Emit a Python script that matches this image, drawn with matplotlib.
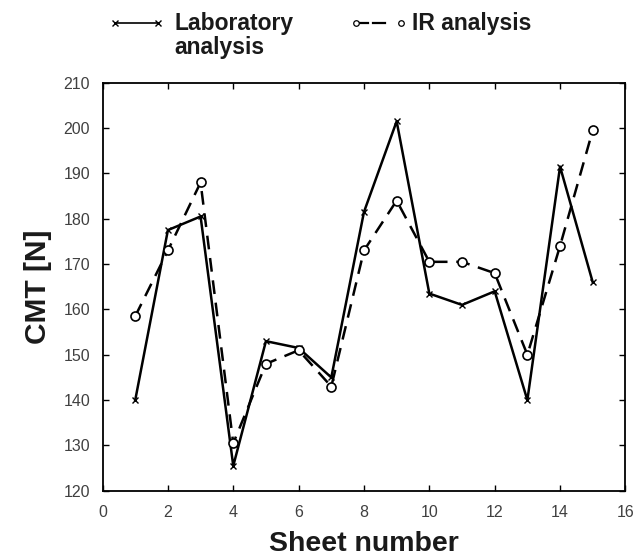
import matplotlib
matplotlib.use("Agg")
import matplotlib.pyplot as plt
from matplotlib.lines import Line2D

sheet = [1, 2, 3, 4, 5, 6, 7, 8, 9, 10, 11, 12, 13, 14, 15]
lab = [140, 177.5, 180.5, 125.5, 153, 151.5, 145, 181.5, 201.5, 163.5, 161, 164, 140, 191.5, 166]
ir = [158.5, 173, 188, 130.5, 148, 151, 143, 173, 184, 170.5, 170.5, 168, 150, 174, 199.5]
xticks = [0, 2, 4, 6, 8, 10, 12, 14, 16]
yticks = [120, 130, 140, 150, 160, 170, 180, 190, 200, 210]

plt.rcParams['font.family'] = ['Liberation Sans', 'DejaVu Sans']

fig = plt.figure(figsize=(6.33, 5.59), dpi=100)
ax = fig.add_axes([0.162, 0.122, 0.826, 0.730])

ax.plot(sheet, lab, color='black', lw=1.8, marker='x', ms=4, mew=1.0)
ax.plot(sheet, ir, color='black', lw=1.8, ls=(0, (5.5, 3.5)), marker='o', ms=6.5,
        mfc='white', mew=1.2)

ax.set_xlim(0, 16)
ax.set_ylim(120, 210)
ax.set_xticks(xticks)
ax.set_yticks(yticks)
ax.tick_params(direction='in', top=True, right=True, length=4, width=1,
               labelsize=11.5, labelcolor='#404040')
ax.tick_params(axis='x', pad=10)
ax.tick_params(axis='y', pad=9)
for s in ax.spines.values():
    s.set_linewidth(1.3)

ax.set_xlabel('Sheet number', fontsize=20.5, fontweight='bold', labelpad=8, color='#1a1a1a')
ax.set_ylabel('CMT [N]', fontsize=21.5, fontweight='bold', labelpad=8, color='#1a1a1a')

# legend drawn in figure coordinates
yl = 1 - 23 / 559
fig.add_artist(Line2D([115/633, 158/633], [yl, yl], color='black', lw=1.2,
                      marker='x', ms=4, mew=1.0, transform=fig.transFigure))
fig.text(174/633, 1 - 12/559, 'Laboratory\nanalysis', fontsize=16.5, fontweight='bold',
         va='top', ha='left', linespacing=1.08, color='#1a1a1a', transform=fig.transFigure)
fig.add_artist(Line2D([356/633, 368/633], [yl, yl], color='black', lw=1.6,
                      transform=fig.transFigure))
fig.add_artist(Line2D([356/633], [yl], color='black', marker='o', ms=4, mfc='white',
                      mew=0.9, ls='none', transform=fig.transFigure))
fig.add_artist(Line2D([373/633, 385/633], [yl, yl], color='black', lw=1.6,
                      transform=fig.transFigure))
fig.add_artist(Line2D([401/633], [yl], color='black', marker='o', ms=4, mfc='white',
                      mew=0.9, ls='none', transform=fig.transFigure))
fig.text(412/633, 1 - 12/559, 'IR analysis', fontsize=16.5, fontweight='bold',
         va='top', ha='left', color='#1a1a1a', transform=fig.transFigure)

fig.savefig('out.png', dpi=100)
